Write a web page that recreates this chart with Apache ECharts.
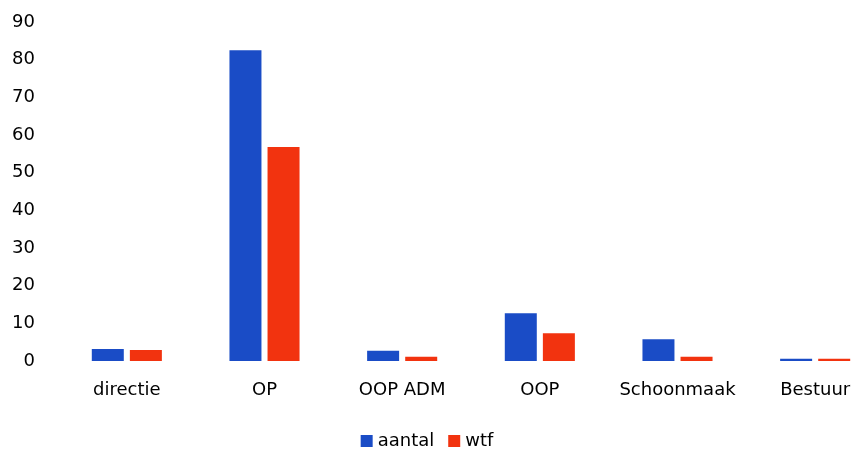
<!DOCTYPE html>
<html>
<head>
<meta charset="utf-8">
<script src="https://cdn.jsdelivr.net/npm/echarts@6/dist/echarts.min.js"></script>
<style>html,body{margin:0;padding:0;background:#fff;}#c{width:854px;height:452px;}</style>
</head>
<body>
<div id="c"></div>
<script>
var categories = ['directie', 'OP', 'OOP ADM', 'OOP', 'Schoonmaak', 'Bestuur'];
var aantal = [3.2, 82.5, 2.7, 12.7, 5.8, 0.6];
var wtf = [2.9, 56.8, 1.1, 7.4, 1.1, 0.6];
var seriesNames = ['aantal', 'wtf'];

var chart = echarts.init(document.getElementById('c'));
var font = 'DejaVu Sans';
chart.setOption({
  animation: false,
  backgroundColor: '#ffffff',
  grid: { left: 58, width: 826, top: 22, bottom: 91, containLabel: false, outerBoundsMode: 'none' },
  legend: {
    data: seriesNames,
    top: 427,
    left: 'center',
    itemWidth: 12,
    itemHeight: 12,
    itemGap: 14,
    icon: 'rect',
    textStyle: { fontFamily: font, fontSize: 18, color: '#000' }
  },
  xAxis: {
    type: 'category',
    data: categories,
    axisLine: { show: false },
    axisTick: { show: false },
    axisLabel: { fontFamily: font, fontSize: 18, color: '#000', margin: 20, interval: 0 }
  },
  yAxis: {
    type: 'value',
    min: 0, max: 90, interval: 10,
    splitLine: { show: false },
    axisLine: { show: false },
    axisTick: { show: false },
    axisLabel: { fontFamily: font, fontSize: 18, color: '#000', margin: 23 }
  },
  series: [
    { name: 'aantal', type: 'bar', data: aantal, barWidth: 32, barGap: '19%', itemStyle: { color: '#1a4cc6' } },
    { name: 'wtf', type: 'bar', data: wtf, barWidth: 32, itemStyle: { color: '#f2330f' } }
  ]
});
</script>
</body>
</html>
